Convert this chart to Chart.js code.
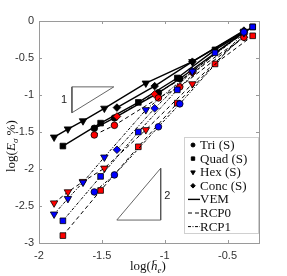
<!DOCTYPE html>
<html>
<head>
<meta charset="utf-8">
<script src="https://cdn.jsdelivr.net/npm/chart.js@4"></script>
<style>
  html, body { margin: 0; padding: 0; background: #fff; }
  #wrap { width: 287px; height: 276px; }
</style>
</head>
<body>
<div id="wrap"><canvas id="chart" width="287" height="276"></canvas></div>
<script>
// log(h) for each mesh family
const triX  = [-1.56, -1.40, -1.05, -0.88, -0.37];
const quadX = [-1.81, -1.51, -1.21, -0.90, -0.60, -0.30];
const hexX  = [-1.88, -1.77, -1.65, -1.48, -1.15, -0.78, -0.37];
const concX = [-1.38, -1.08, -0.78, -0.37];

// log(E) per method
const triVEM   = [-1.45, -1.31, -0.97, -0.78, -0.15];
const triRCP0  = [-1.54, -1.41, -1.04, -0.89, -0.22];
const triRCP1  = [-2.31, -2.08, -1.43, -1.12, -0.15];
const quadVEM  = [-1.69, -1.38, -1.10, -0.77, -0.39, -0.08];
const quadRCP0 = [-2.90, -2.29, -1.70, -1.11, -0.58, -0.20];
const quadRCP1 = [-2.70, -2.10, -1.50, -0.93, -0.43, -0.08];
const hexVEM   = [-1.57, -1.46, -1.35, -1.18, -0.84, -0.55, -0.14];
const hexRCP0  = [-2.46, -2.31, -2.17, -1.99, -1.47, -0.85, -0.20];
const hexRCP1  = [-2.61, -2.40, -2.18, -1.84, -1.20, -0.68, -0.16];
const concVEM  = [-1.17, -0.88, -0.55, -0.13];
const concRCP0 = [-1.29, -0.99, -0.70, -0.22];
const concRCP1 = [-1.74, -1.18, -0.68, -0.15];

// slope triangles
const slope1X = [-1.738, -1.405, -1.738, -1.738];
const slope1Y = [-1.24, -0.89, -0.89, -1.24];
const slope2X = [-1.381, -1.032, -1.032, -1.381];
const slope2Y = [-2.69, -1.99, -2.69, -2.69];

const xTicks = [-2, -1.5, -1, -0.5];
const yTicks = [0, -0.5, -1, -1.5, -2, -2.5, -3];

const legendShapes = ["Tri (S)", "Quad (S)", "Hex (S)", "Conc (S)"];
const legendLines = ["VEM", "RCP0", "RCP1"];

function pts(xs, ys) {
  return xs.map((x, i) => ({ x: x, y: ys[i] }));
}

const shapes = {
  tri: { style: "circle", r: 3.3, rot: 0 },
  quad: { style: "rect", r: 4, rot: 0 },
  hex: { style: "triangle", r: 4.3, rot: 180 },
  conc: { style: "rectRot", r: 3.8, rot: 0 },
};
const methods = {
  VEM: { fill: "#000000", dash: [], width: 1.4 },
  RCP0: { fill: "#ff0000", dash: [4, 3], width: 1 },
  RCP1: { fill: "#0000ff", dash: [3, 1.5, 1, 1.5], width: 1 },
};

function series(shape, method, xs, ys) {
  const s = shapes[shape], m = methods[method];
  return {
    data: pts(xs, ys),
    borderColor: "#000",
    borderWidth: m.width,
    borderDash: m.dash,
    pointStyle: s.style,
    pointRadius: s.r,
    pointRotation: s.rot,
    pointBackgroundColor: m.fill,
    pointBorderColor: "#000",
    pointBorderWidth: 0.8,
    tension: 0,
    fill: false,
  };
}

function slope(xs, ys) {
  return {
    data: pts(xs, ys),
    borderColor: "#555",
    borderWidth: 0.9,
    pointRadius: 0,
    tension: 0,
    fill: false,
  };
}

const datasets = [
  series("tri", "RCP1", triX, triRCP1),
  series("quad", "RCP1", quadX, quadRCP1),
  series("hex", "RCP1", hexX, hexRCP1),
  series("conc", "RCP1", concX, concRCP1),
  series("tri", "RCP0", triX, triRCP0),
  series("quad", "RCP0", quadX, quadRCP0),
  series("hex", "RCP0", hexX, hexRCP0),
  series("conc", "RCP0", concX, concRCP0),
  series("tri", "VEM", triX, triVEM),
  series("quad", "VEM", quadX, quadVEM),
  series("hex", "VEM", hexX, hexVEM),
  series("conc", "VEM", concX, concVEM),
  slope(slope1X, slope1Y),
  slope(slope2X, slope2Y),
];

const SERIF = "'Liberation Serif', 'DejaVu Serif', serif";

const decor = {
  id: "decor",
  beforeDatasetsDraw(chart) {
    const ctx = chart.ctx, a = chart.chartArea;
    const xs = chart.scales.x, ys = chart.scales.y;
    ctx.save();
    ctx.strokeStyle = "#9a9a9a";
    ctx.lineWidth = 1;
    ctx.beginPath();
    xTicks.forEach(v => {
      const p = Math.round(xs.getPixelForValue(v)) + 0.5;
      ctx.moveTo(p, a.bottom); ctx.lineTo(p, a.bottom - 3);
      ctx.moveTo(p, a.top); ctx.lineTo(p, a.top + 3);
    });
    yTicks.forEach(v => {
      const p = Math.round(ys.getPixelForValue(v)) + 0.5;
      ctx.moveTo(a.left, p); ctx.lineTo(a.left + 3, p);
      ctx.moveTo(a.right, p); ctx.lineTo(a.right - 3, p);
    });
    ctx.stroke();
    ctx.strokeRect(Math.round(a.left) + 0.5, Math.round(a.top) + 0.5,
      Math.round(a.right - a.left), Math.round(a.bottom - a.top));
    ctx.restore();
  },
  afterDatasetsDraw(chart) {
    const ctx = chart.ctx;
    const xs = chart.scales.x, ys = chart.scales.y;
    ctx.save();
    // slope labels
    ctx.fillStyle = "#222";
    ctx.font = "11px 'Liberation Sans', sans-serif";
    ctx.textAlign = "center";
    ctx.textBaseline = "middle";
    ctx.fillText("1", xs.getPixelForValue(-1.80), ys.getPixelForValue(-1.07));
    ctx.fillText("2", xs.getPixelForValue(-0.98), ys.getPixelForValue(-2.36));

    // legend
    const lx = 184, ly = 137, lw = 74, lh = 96;
    ctx.fillStyle = "#fff";
    ctx.fillRect(lx, ly, lw, lh);
    ctx.strokeStyle = "#d0d0d0";
    ctx.lineWidth = 1;
    ctx.strokeRect(lx + 0.5, ly + 0.5, lw, lh);
    ctx.font = "13px " + SERIF;
    ctx.textAlign = "left";
    ctx.textBaseline = "middle";
    const keys = ["tri", "quad", "hex", "conc"];
    const step = 13.6;
    legendShapes.forEach((label, i) => {
      const y = 145 + i * step;
      const s = shapes[keys[i]];
      ctx.fillStyle = "#000";
      ctx.strokeStyle = "#000";
      Chart.helpers.drawPoint(ctx, { pointStyle: s.style, radius: s.r * 0.6, rotation: s.rot, borderWidth: 0.5 }, 193, y);
      ctx.fillStyle = "#111";
      ctx.fillText(label, 200, y + 0.5);
    });
    legendLines.forEach((label, i) => {
      const y = 145 + (i + 4) * step;
      const m = methods[label];
      ctx.strokeStyle = "#000";
      ctx.lineWidth = m.width;
      ctx.setLineDash(m.dash);
      ctx.beginPath();
      ctx.moveTo(188, y); ctx.lineTo(200, y);
      ctx.stroke();
      ctx.setLineDash([]);
      ctx.fillStyle = "#111";
      ctx.fillText(label, 200, y + 0.5);
    });

    // axis titles
    ctx.fillStyle = "#111";
    ctx.textBaseline = "alphabetic";
    // x: log(h̄_e)
    let x = 130, y = 270;
    const parts = [
      ["log(", "13px " + SERIF, 0],
      ["h\u0304", "italic 13px " + SERIF, 0],
      ["e", "italic 9px " + SERIF, 3],
      [")", "13px " + SERIF, 0],
    ];
    parts.forEach(p => {
      ctx.font = p[1];
      ctx.fillText(p[0], x, y + p[2]);
      x += ctx.measureText(p[0]).width;
    });
    // y: log(E_σ %)
    ctx.translate(15, 172);
    ctx.rotate(-Math.PI / 2);
    const yparts = [
      ["log(", "13px " + SERIF, 0],
      ["E", "italic 13px " + SERIF, 0],
      ["\u03c3", "italic 9px " + SERIF, 3],
      [" %)", "13px " + SERIF, 0],
    ];
    x = 0;
    yparts.forEach(p => {
      ctx.font = p[1];
      ctx.fillText(p[0], x, p[2]);
      x += ctx.measureText(p[0]).width;
    });
    ctx.restore();
  },
};

new Chart(document.getElementById("chart"), {
  type: "line",
  data: { datasets: datasets },
  options: {
    responsive: false,
    animation: false,
    layout: { padding: { top: 21, right: 28, left: 0, bottom: 0 } },
    plugins: { legend: { display: false }, tooltip: { enabled: false } },
    scales: {
      x: {
        type: "linear",
        min: -2,
        max: -0.25,
        afterBuildTicks: s => { s.ticks = xTicks.map(v => ({ value: v })); },
        afterFit: s => { s.height = 33; },
        grid: { display: false, drawTicks: false },
        border: { display: false },
        ticks: {
          padding: 6,
          color: "#333",
          font: { family: "'Liberation Sans', sans-serif", size: 11 },
          callback: v => String(v),
        },
      },
      y: {
        type: "linear",
        min: -3,
        max: 0,
        afterBuildTicks: s => { s.ticks = yTicks.map(v => ({ value: v })); },
        afterFit: s => { s.width = 39; },
        grid: { display: false, drawTicks: false },
        border: { display: false },
        ticks: {
          padding: 5,
          color: "#333",
          font: { family: "'Liberation Sans', sans-serif", size: 11 },
          callback: v => String(v),
        },
      },
    },
  },
  plugins: [decor],
});
</script>
</body>
</html>
